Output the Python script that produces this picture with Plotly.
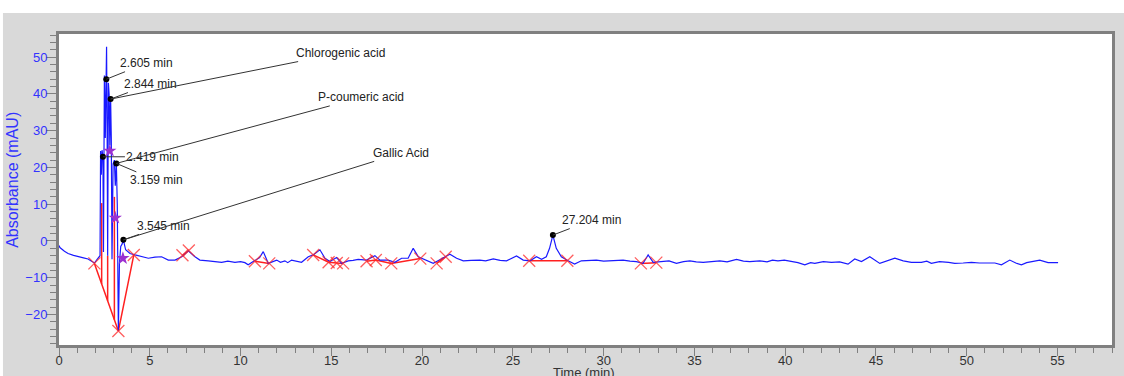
import plotly.graph_objects as go
import numpy as np

# ---- chromatogram signal ----
time_min = [0.00, 0.05, 0.30, 0.50, 0.80, 1.06, 1.35, 1.60, 1.80, 1.95, 2.10, 2.22, 2.26,
            2.29, 2.33, 2.37, 2.419, 2.45, 2.50, 2.55, 2.605, 2.62, 2.65, 2.68, 2.72, 2.76,
            2.80, 2.844, 2.88, 2.92, 2.98, 3.05, 3.10, 3.159, 3.21, 3.27, 3.33, 3.40, 3.48,
            3.545, 3.67, 3.91, 4.19, 4.55, 4.92, 5.29, 5.65, 6.02, 6.39, 6.76, 7.12, 7.49,
            7.76, 8.22, 8.60, 8.96, 9.30, 9.69, 10.00, 10.24, 10.42, 10.79, 11.05, 11.25,
            11.53, 11.99, 12.20, 12.44, 12.60, 12.81, 13.10, 13.36, 13.73, 14.00, 14.37,
            14.65, 14.92, 15.29, 15.57, 15.93, 16.20, 16.48, 16.94, 17.40, 17.68, 18.13,
            18.50, 18.87, 19.23, 19.51, 19.79, 20.15, 20.61, 20.80, 21.16, 21.53, 21.90,
            22.27, 22.70, 23.18, 23.50, 23.92, 24.30, 24.65, 25.20, 25.57, 25.94, 26.30,
            26.58, 26.84, 27.02, 27.204, 27.39, 27.67, 28.04, 28.40, 28.77, 29.20, 29.60,
            30.00, 30.34, 30.70, 31.07, 31.45, 31.80, 32.17, 32.45, 32.73, 33.28, 33.60,
            34.01, 34.40, 34.75, 35.10, 35.48, 35.90, 36.40, 36.80, 37.32, 37.70, 38.05,
            38.60, 39.00, 39.30, 39.60, 39.95, 40.34, 40.70, 41.08, 41.40, 41.63, 42.10,
            42.55, 43.00, 43.46, 43.83, 44.20, 44.66, 45.21, 45.60, 46.04, 46.50, 46.95,
            47.50, 47.80, 48.05, 48.50, 49.00, 49.34, 49.80, 50.26, 50.70, 51.17, 51.55,
            51.91, 52.37, 52.70, 53.01, 53.30, 53.56, 54.02, 54.48, 55.03]
absorbance = [-1.2, -1.8, -2.8, -3.4, -3.9, -4.3, -4.6, -4.9, -5.5, -6.0, -5.0, -4.2, -4.0,
              24.5, 18.0, 24.7, 22.9, -3.0, 45.0, 28.0, 44.0, 52.8, 30.0, -4.0, 43.0, 40.0,
              26.0, 38.6, 28.0, -5.0, 21.0, 22.0, 15.0, 21.1, 10.0, -24.5, -6.0, -1.5, -0.8,
              0.3, -2.4, -3.4, -3.8, -4.3, -4.7, -4.4, -4.3, -5.2, -5.2, -4.3, -2.7, -4.3,
              -5.2, -5.4, -5.6, -5.8, -5.5, -5.8, -5.6, -5.9, -6.5, -5.4, -4.5, -2.9,
              -6.1, -5.2, -5.8, -5.4, -5.9, -5.2, -5.6, -5.8, -4.3, -3.8, -2.4,
              -4.7, -5.6, -4.5, -6.1, -5.4, -5.3, -5.0, -5.2, -4.0, -5.2, -5.2,
              -5.8, -4.7, -4.7, -2.0, -4.3, -5.0, -6.1, -5.6, -4.7, -3.6, -4.7,
              -5.4, -5.3, -5.2, -5.4, -4.9, -5.3, -5.4, -4.1, -5.2, -5.4, -4.3,
              -5.0, -4.3, -2.0, 1.6, -2.0, -4.3, -5.4, -6.3, -5.4, -5.3, -5.2,
              -5.5, -5.4, -5.2, -5.2, -5.5, -5.6, -6.1, -3.8, -5.8, -5.6, -5.4,
              -6.1, -5.6, -5.4, -5.7, -5.8, -5.6, -5.4, -5.7, -5.0, -5.5, -5.6,
              -5.4, -5.7, -5.2, -5.4, -5.2, -5.6, -5.9, -6.5, -5.9, -6.1, -5.6,
              -5.8, -5.7, -6.3, -4.9, -5.6, -4.3, -6.1, -5.5, -4.7, -5.4, -5.8,
              -5.8, -5.5, -6.1, -5.6, -5.8, -6.1, -6.0, -5.8, -6.0, -6.1, -6.0,
              -6.5, -5.2, -6.0, -6.5, -5.9, -5.6, -5.2, -5.9, -5.9]

# ---- integration baselines (segments separated by None) ----
baseline_t = [1.95, 3.27, 4.12, None, 6.80, 7.15, None, 10.79, 11.58, None,
              14.00, 14.85, 15.30, 15.65, None, 16.94, 17.45, 18.30, 19.90, None,
              20.80, 21.30, None, 25.90, 28.00, None, 32.05, 32.90]
baseline_y = [-6.1, -24.5, -3.8, None, -3.9, -2.6, None, -5.5, -6.1, None,
              -3.8, -5.8, -6.0, -6.1, None, -5.5, -5.2, -6.1, -4.8, None,
              -6.1, -4.3, None, -5.4, -5.4, None, -6.1, -5.9]
drop_t = [2.35, 2.68, 3.05]
drop_top = [10.3, -4.0, 12.0]

# ---- detected peaks ----
peak_t = [2.419, 2.605, 2.844, 3.159, 3.545, 27.204]
peak_y = [22.9, 44.0, 38.6, 21.1, 0.3, 1.6]
peak_labels = ["2.419 min", "2.605 min", "2.844 min", "3.159 min", "3.545 min", "27.204 min"]
label_offsets = [(50, 0), (40, -16), (40, -15), (40, 17), (40, -14), (39, -15)]

compound_names = ["Chlorogenic acid", "P-coumeric acid", "Gallic Acid"]
compound_peak = [2.844, 3.159, 3.545]
compound_offsets = [(230, -46), (245, -66), (278, -87)]

star_t = [2.80, 3.10, 3.52]
star_y = [24.5, 6.3, -4.7]

FONT = "Liberation Sans, Arial, sans-serif"

fig = go.Figure()

bl_x = [v for v in baseline_t if v is not None]
bl_yv = [v for v in baseline_y if v is not None]
fig.add_trace(go.Scatter(x=baseline_t, y=baseline_y, mode="lines",
                         line=dict(color="#ff2020", width=1.5), hoverinfo="skip",
                         showlegend=False))
bx = [baseline_t[0], baseline_t[1]]
by = [baseline_y[0], baseline_y[1]]
dx, dy = [], []
for t, top in zip(drop_t, drop_top):
    bottom = float(np.interp(t, bx, by))
    dx += [t, t, None]
    dy += [bottom, top, None]
fig.add_trace(go.Scatter(x=dx, y=dy, mode="lines", line=dict(color="#ff2020", width=1.5),
                         hoverinfo="skip", showlegend=False))

fig.add_trace(go.Scatter(x=time_min, y=absorbance, mode="lines",
                         line=dict(color="#1a1aff", width=1.2), showlegend=False))

fig.add_trace(go.Scatter(x=bl_x, y=bl_yv, mode="markers",
                         marker=dict(symbol="x-thin", size=12, line=dict(color="rgba(255,40,40,0.75)", width=1.3)),
                         hoverinfo="skip", showlegend=False))

fig.add_trace(go.Scatter(x=star_t, y=star_y, mode="markers",
                         marker=dict(symbol="star", size=10, color="#9b30d0"),
                         showlegend=False))

fig.add_trace(go.Scatter(x=peak_t, y=peak_y, mode="markers",
                         marker=dict(symbol="circle", size=6, color="black"),
                         showlegend=False))

annotations = []
for t, y, lab, (ax, ay) in zip(peak_t, peak_y, peak_labels, label_offsets):
    annotations.append(dict(x=t, y=y, xref="x", yref="y", text=lab, showarrow=True,
                            ax=ax, ay=ay, arrowhead=0, arrowwidth=1, arrowcolor="#333333",
                            standoff=0, font=dict(family=FONT, size=12, color="#222222")))
for name, pt, (ax, ay) in zip(compound_names, compound_peak, compound_offsets):
    y = peak_y[peak_t.index(pt)]
    annotations.append(dict(x=pt, y=y, xref="x", yref="y", text=name, showarrow=True,
                            ax=ax, ay=ay, arrowhead=0, arrowwidth=1, arrowcolor="#333333",
                            standoff=0, font=dict(family=FONT, size=12, color="#222222")))

annotations.append(dict(x=-0.044, y=0.53, xref="paper", yref="paper", text="Absorbance (mAU)",
                        textangle=-90, showarrow=False, xanchor="center", yanchor="middle",
                        font=dict(family=FONT, size=16, color="#3333ff")))
annotations.append(dict(x=0.499, y=-0.058, xref="paper", yref="paper", text="Time (min)",
                        showarrow=False, xanchor="center", yanchor="top",
                        font=dict(family=FONT, size=13, color="#333333")))

shapes = [
    dict(type="rect", xref="paper", yref="paper", x0=-0.2, x1=1.2, y0=1.0675, y1=1.3,
         fillcolor="white", line=dict(width=0), layer="below"),
    dict(type="rect", xref="paper", yref="paper", x0=-0.2, x1=-0.0532, y0=-0.3, y1=1.3,
         fillcolor="white", line=dict(width=0), layer="below"),
]

fig.update_layout(
    width=1124, height=376,
    margin=dict(l=59, r=12, t=34, b=31, autoexpand=False),
    paper_bgcolor="#d9d9d9", plot_bgcolor="white",
    annotations=annotations, shapes=shapes,
    xaxis=dict(range=[0, 58], tickmode="linear", tick0=0, dtick=5, ticks="outside",
               ticklen=8, tickcolor="#808080", tickwidth=1, automargin=False,
               ticklabelstandoff=-7,
               minor=dict(dtick=1, ticks="outside", ticklen=5, tickcolor="#808080"),
               showgrid=False, zeroline=False, showline=True, linecolor="#808080",
               linewidth=3, mirror=True,
               tickfont=dict(family=FONT, size=13, color="#333333")),
    yaxis=dict(range=[-28.3, 56.3], tickmode="linear", tick0=0, dtick=10, ticks="outside",
               ticklen=10, tickcolor="#808080", tickwidth=1, automargin=False,
               ticklabelstandoff=-4,
               minor=dict(dtick=2, ticks="outside", ticklen=6, tickcolor="#808080"),
               showgrid=False, zeroline=False, showline=True, linecolor="#808080",
               linewidth=3, mirror=True,
               tickfont=dict(family=FONT, size=13, color="#3333ff")),
)

fig.write_html("out.html", config={"displayModeBar": False},
               post_script="document.body.style.margin='0';document.body.style.overflow='hidden';")
